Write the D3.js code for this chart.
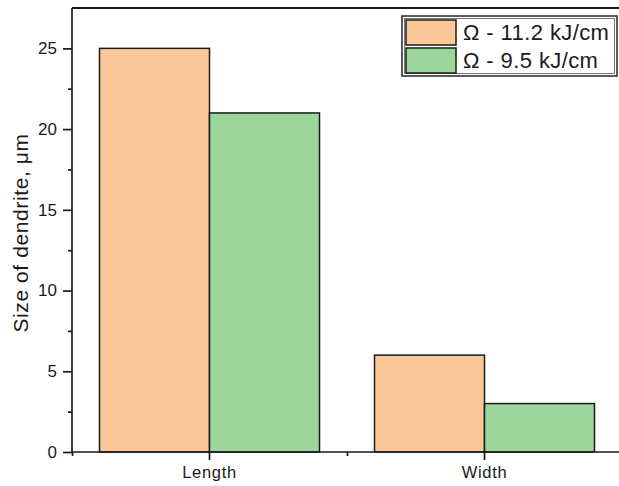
<!DOCTYPE html>
<html>
<head>
<meta charset="utf-8">
<script src="https://cdn.jsdelivr.net/npm/d3@7"></script>
<style>
  html, body { margin: 0; padding: 0; background: #fff; }
  svg { display: block; font-family: "Liberation Sans", Arial, sans-serif; }
</style>
</head>
<body>
<svg id="chart" width="619" height="486"></svg>
<script>
// Dendrite size by heat input
const categories = ["Length", "Width"];
const seriesNames = ["Ω - 11.2 kJ/cm", "Ω - 9.5 kJ/cm"];
const seriesColors = ["#FAC898", "#9DD69C"];
const valuesHigh = [25, 6];   // Ω - 11.2 kJ/cm
const valuesLow = [21, 3];    // Ω - 9.5 kJ/cm
const yMajorTicks = [0, 5, 10, 15, 20, 25];
const yMinorTicks = [2.5, 7.5, 12.5, 17.5, 22.5];
const yLabel = "Size of dendrite, μm";

const seriesValues = [valuesHigh, valuesLow];
const rows = categories.map((c, i) => ({
  category: c,
  values: seriesNames.map((s, k) => ({ series: s, value: seriesValues[k][i], color: seriesColors[k] }))
}));

const svg = d3.select("#chart");
const plotLeft = 72, plotTop = 8, plotBottom = 452, plotRight = 622;
const ink = "#1a1a1a";

const x0 = d3.scaleBand().domain(categories).range([plotLeft, plotRight]).paddingInner(0).paddingOuter(0);
const bw = x0.bandwidth();
const x1 = d3.scaleBand().domain(seriesNames).range([0.1 * bw, 0.9 * bw]).padding(0);
const y = d3.scaleLinear().domain([0, 27.5]).range([plotBottom, plotTop]);
// band boundaries for the minor x ticks
const xEdges = d3.scaleLinear().domain([0, categories.length]).range([plotLeft, plotRight]);

// bars
const groups = svg.append("g").selectAll("g")
  .data(rows).join("g")
  .attr("transform", d => `translate(${x0(d.category)},0)`);
groups.selectAll("rect")
  .data(d => d.values).join("rect")
  .attr("x", d => x1(d.series))
  .attr("width", x1.bandwidth())
  .attr("y", d => y(d.value))
  .attr("height", d => y(0) - y(d.value))
  .attr("fill", d => d.color)
  .attr("stroke", ink)
  .attr("stroke-width", 1.5);

// frame top line
svg.append("line")
  .attr("x1", plotLeft).attr("x2", 619)
  .attr("y1", plotTop).attr("y2", plotTop)
  .attr("stroke", ink).attr("stroke-width", 2);

// y axis
const yAxis = svg.append("g")
  .attr("transform", `translate(${plotLeft},0)`)
  .call(d3.axisLeft(y).tickValues(yMajorTicks).tickSize(9).tickPadding(6).tickFormat(d3.format("d")));
svg.append("g")
  .attr("transform", `translate(${plotLeft},0)`)
  .call(d3.axisLeft(y).tickValues(yMinorTicks).tickSize(4).tickFormat(""))
  .call(g => g.select(".domain").remove());
yAxis.select(".domain").attr("d", `M0,${plotTop}V${plotBottom}`);

// x axis
const xAxis = svg.append("g")
  .attr("transform", `translate(0,${plotBottom})`)
  .call(d3.axisBottom(x0).tickSize(8).tickPadding(6));
svg.append("g")
  .attr("transform", `translate(0,${plotBottom})`)
  .call(d3.axisBottom(xEdges).tickValues(d3.range(categories.length + 1)).tickSize(4).tickFormat(""))
  .call(g => g.select(".domain").remove());
xAxis.select(".domain").attr("d", `M${plotLeft},0H${plotRight}`);

svg.selectAll(".domain, .tick line").attr("stroke", ink).attr("stroke-width", 1.7);
yAxis.selectAll(".tick text").attr("font-size", 17).attr("fill", ink)
  .attr("font-family", "Liberation Sans, Arial, sans-serif");
xAxis.selectAll(".tick text").attr("font-size", 16.5).attr("fill", ink)
  .attr("letter-spacing", 0.7)
  .attr("font-family", "Liberation Sans, Arial, sans-serif");

// y axis title
svg.append("text")
  .attr("transform", `translate(27.5,${(plotTop + plotBottom) / 2 + 3}) rotate(-90)`)
  .attr("text-anchor", "middle")
  .attr("font-size", 21)
  .attr("letter-spacing", 0.6)
  .attr("fill", ink)
  .text(yLabel);

// legend
const lg = svg.append("g").attr("transform", "translate(402,16)");
lg.append("rect").attr("x", 0).attr("y", 0).attr("width", 215).attr("height", 60)
  .attr("fill", "#fff").attr("stroke", "#333").attr("stroke-width", 1.6);
lg.append("rect").attr("x", 2.5).attr("y", 2.5).attr("width", 210).attr("height", 55)
  .attr("fill", "none").attr("stroke", "#555").attr("stroke-width", 0.8);
const items = lg.selectAll("g.item")
  .data(seriesNames.map((s, k) => ({ name: s, color: seriesColors[k] })))
  .join("g").attr("class", "item")
  .attr("transform", (d, i) => `translate(4,${4 + i * 28})`);
items.append("rect")
  .attr("width", 50).attr("height", 25)
  .attr("fill", d => d.color).attr("stroke", ink).attr("stroke-width", 1.5);
items.append("text")
  .attr("x", 57).attr("y", 19.5)
  .attr("font-size", 22)
  .attr("letter-spacing", 0.4)
  .attr("fill", ink)
  .text(d => d.name);
</script>
</body>
</html>
